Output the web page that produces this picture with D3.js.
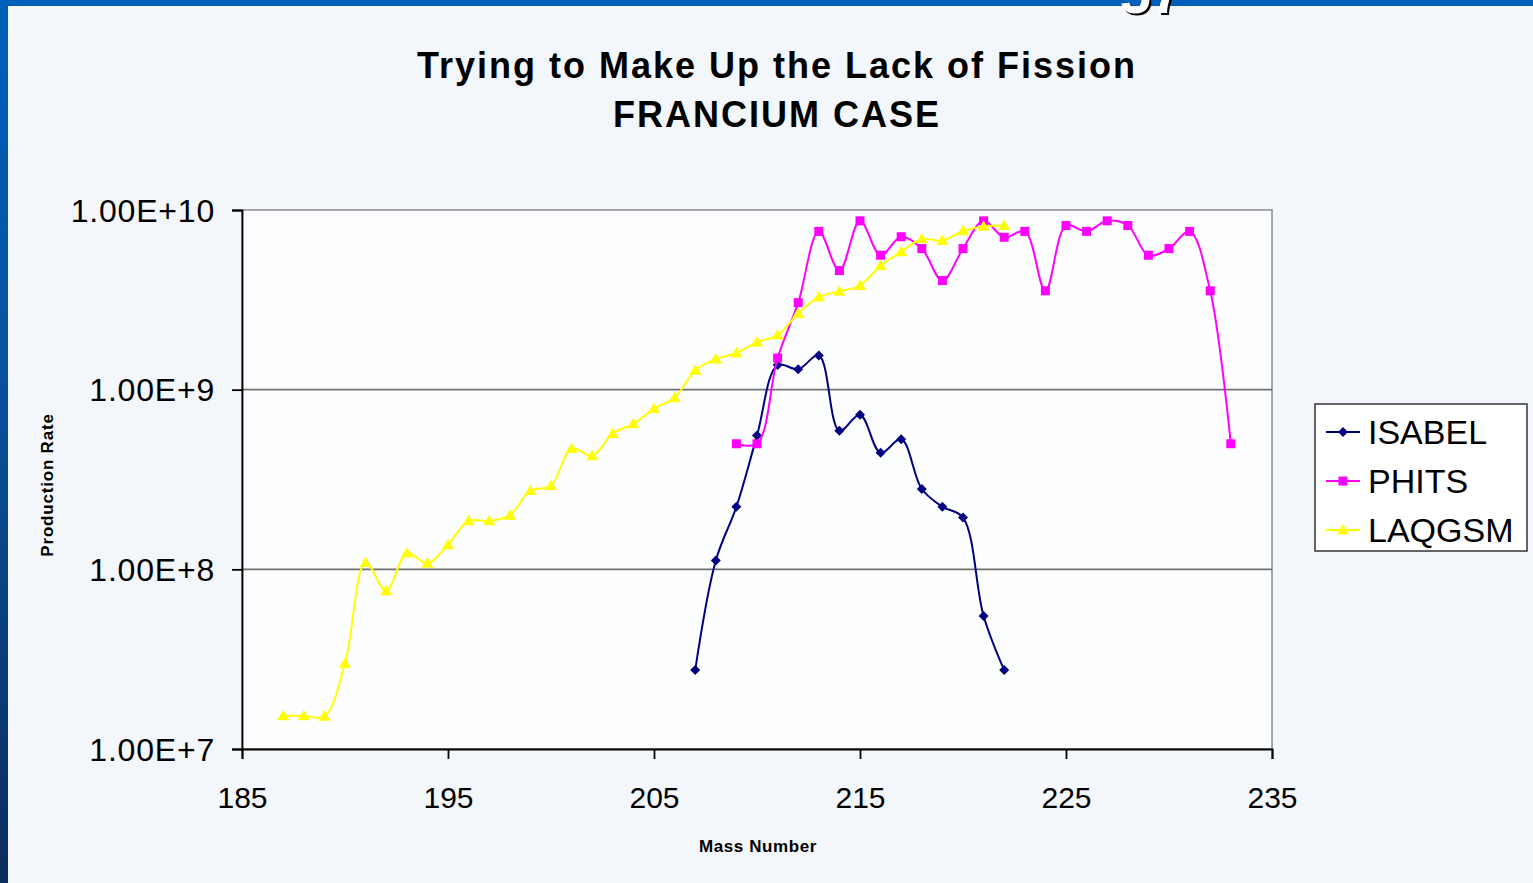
<!DOCTYPE html>
<html>
<head>
<meta charset="utf-8">
<script src="https://cdn.jsdelivr.net/npm/d3@7"></script>
<style>
  body { margin: 0; padding: 0; background: #f3f6fa; }
  svg { display: block; font-family: "Liberation Sans", Arial, sans-serif; }
</style>
</head>
<body>
<svg id="mainChart" width="1533" height="883"></svg>
<script>
// masses and production rates
var isabelMass = [207, 208, 209, 210, 211, 212, 213, 214, 215, 216, 217, 218, 219, 220, 221, 222];
var isabelRate = [2.75e7, 1.12e8, 2.23e8, 5.55e8, 1.37e9, 1.30e9, 1.55e9, 5.9e8, 7.25e8, 4.45e8, 5.3e8, 2.8e8, 2.23e8, 1.94e8, 5.5e7, 2.75e7];

var phitsMass = [209, 210, 211, 212, 213, 214, 215, 216, 217, 218, 219, 220, 221, 222, 223, 224, 225, 226, 227, 228, 229, 230, 231, 232, 233];
var phitsRate = [5.0e8, 5.0e8, 1.5e9, 3.05e9, 7.6e9, 4.6e9, 8.7e9, 5.6e9, 7.1e9, 6.1e9, 4.05e9, 6.1e9, 8.7e9, 7.05e9, 7.6e9, 3.55e9, 8.2e9, 7.6e9, 8.7e9, 8.2e9, 5.6e9, 6.1e9, 7.6e9, 3.55e9, 5.0e8];

var laqgsmMass = [187, 188, 189, 190, 191, 192, 193, 194, 195, 196, 197, 198, 199, 200, 201, 202, 203, 204, 205, 206, 207, 208, 209, 210, 211, 212, 213, 214, 215, 216, 217, 218, 219, 220, 221, 222];
var laqgsmRate = [1.53e7, 1.53e7, 1.52e7, 3.0e7, 1.09e8, 7.6e7, 1.23e8, 1.08e8, 1.37e8, 1.86e8, 1.86e8, 2.0e8, 2.74e8, 2.92e8, 4.7e8, 4.28e8, 5.7e8, 6.45e8, 7.85e8, 9.0e8, 1.28e9, 1.48e9, 1.6e9, 1.84e9, 2.01e9, 2.65e9, 3.27e9, 3.53e9, 3.8e9, 4.9e9, 5.85e9, 6.9e9, 6.75e9, 7.65e9, 8.1e9, 8.2e9];

var xTicks = [185, 195, 205, 215, 225, 235];
var yTicks = [1e7, 1e8, 1e9, 1e10];

var series = [
  { name: "ISABEL", mass: isabelMass, rate: isabelRate, color: "#000080", marker: "diamond" },
  { name: "PHITS", mass: phitsMass, rate: phitsRate, color: "#ff00ff", marker: "square" },
  { name: "LAQGSM", mass: laqgsmMass, rate: laqgsmRate, color: "#ffff00", marker: "triangle" }
];

var svg = d3.select("#mainChart");

// slide background with blue frame
var grad = svg.append("defs").append("linearGradient")
  .attr("id", "frameGrad").attr("x1", 0).attr("y1", 0).attr("x2", 0).attr("y2", 1);
grad.append("stop").attr("offset", "0%").attr("stop-color", "#0060bb");
grad.append("stop").attr("offset", "45%").attr("stop-color", "#0a4f9c");
grad.append("stop").attr("offset", "100%").attr("stop-color", "#0b2d5c");

svg.append("rect").attr("width", 1533).attr("height", 883).attr("fill", "#f3f6fa");
svg.append("rect").attr("x", 0).attr("y", 0).attr("width", 8).attr("height", 883).attr("fill", "url(#frameGrad)");
svg.append("rect").attr("x", 0).attr("y", 0).attr("width", 1533).attr("height", 6).attr("fill", "#0060bb");

// slide number, cut off by the top edge as on the slide
svg.append("text").attr("x", 1151).attr("y", 13).attr("text-anchor", "middle")
  .attr("font-size", 56).attr("font-weight", "bold").attr("fill", "#000")
  .attr("transform", "translate(2,2)").text("57");
svg.append("text").attr("x", 1151).attr("y", 13).attr("text-anchor", "middle")
  .attr("font-size", 56).attr("font-weight", "bold").attr("fill", "#fff").text("57");

var plotLeft = 242, plotRight = 1272, plotTop = 210, plotBottom = 749;

var x = d3.scaleLinear().domain([185, 235]).range([plotLeft, plotRight]);
var y = d3.scaleLog().domain([1e7, 1e10]).range([plotBottom, plotTop]);

// plot area
svg.append("rect").attr("x", plotLeft).attr("y", plotTop)
  .attr("width", plotRight - plotLeft).attr("height", plotBottom - plotTop)
  .attr("fill", "#fdfeff").attr("stroke", "#8a8a8a").attr("stroke-width", 1.5);

// gridlines
svg.append("g").selectAll("line").data(yTicks.slice(1, 3)).enter().append("line")
  .attr("x1", plotLeft).attr("x2", plotRight)
  .attr("y1", function(d) { return y(d); }).attr("y2", function(d) { return y(d); })
  .attr("stroke", "#6f6f6f").attr("stroke-width", 1.8);

// axes
var yAxis = svg.append("g").attr("transform", "translate(" + plotLeft + ",0)")
  .call(d3.axisLeft(y).tickValues(yTicks).tickSize(10).tickPadding(12)
    .tickFormat(function(d) { return d3.format(".2e")(d).toUpperCase(); }));
var xAxis = svg.append("g").attr("transform", "translate(0," + plotBottom + ")")
  .call(d3.axisBottom(x).tickValues(xTicks).tickSize(10).tickPadding(12));

[yAxis, xAxis].forEach(function(a) {
  a.select(".domain").attr("stroke", "#000").attr("stroke-width", 1.8);
  a.selectAll(".tick line").attr("stroke", "#000").attr("stroke-width", 1.8);
  a.selectAll(".tick text").attr("font-size", 30).attr("fill", "#000")
    .attr("font-family", "'Liberation Sans', Arial, sans-serif");
});
yAxis.selectAll(".tick text").attr("font-size", 32).attr("letter-spacing", 0.8)
  .attr("dy", "0.35em").attr("x", -27);
xAxis.selectAll(".tick text").attr("dy", "0.71em").attr("y", 38);

// lines and markers
var line = d3.line()
  .x(function(d) { return x(d[0]); })
  .y(function(d) { return y(d[1]); })
  .curve(d3.curveCatmullRom.alpha(0.5));

function markerPath(type, s) {
  if (type === "diamond") return "M0," + (-s) + "L" + s + ",0L0," + s + "L" + (-s) + ",0Z";
  if (type === "square") return "M" + (-s) + "," + (-s) + "H" + s + "V" + s + "H" + (-s) + "Z";
  return "M0," + (-s * 1.1) + "L" + (s * 1.1) + "," + (s * 0.8) + "L" + (-s * 1.1) + "," + (s * 0.8) + "Z";
}
var markerSize = { diamond: 5, square: 4.5, triangle: 5.5 };

series.forEach(function(s) {
  var pts = s.mass.map(function(m, i) { return [m, s.rate[i]]; });
  var g = svg.append("g");
  g.append("path").datum(pts).attr("d", line)
    .attr("fill", "none").attr("stroke", s.color).attr("stroke-width", 2);
  g.selectAll("path.pt").data(pts).enter().append("path").attr("class", "pt")
    .attr("transform", function(d) { return "translate(" + x(d[0]) + "," + y(d[1]) + ")"; })
    .attr("d", markerPath(s.marker, markerSize[s.marker]))
    .attr("fill", s.color);
});

// titles
svg.append("text").attr("x", 777).attr("y", 78).attr("text-anchor", "middle")
  .attr("font-size", 36).attr("font-weight", "bold").attr("letter-spacing", 2)
  .text("Trying to Make Up the Lack of Fission");
svg.append("text").attr("x", 777).attr("y", 127).attr("text-anchor", "middle")
  .attr("font-size", 36).attr("font-weight", "bold").attr("letter-spacing", 2)
  .text("FRANCIUM CASE");

svg.append("text").attr("x", 758).attr("y", 852).attr("text-anchor", "middle")
  .attr("font-size", 17).attr("font-weight", "bold").attr("letter-spacing", 0.6).text("Mass Number");
svg.append("text").attr("transform", "translate(53,485) rotate(-90)").attr("text-anchor", "middle")
  .attr("font-size", 17).attr("font-weight", "bold").attr("letter-spacing", 0.8).text("Production Rate");

// legend
var legend = svg.append("g");
legend.append("rect").attr("x", 1315).attr("y", 404).attr("width", 212).attr("height", 147)
  .attr("fill", "#fff").attr("stroke", "#333").attr("stroke-width", 1.5);
series.forEach(function(s, i) {
  var ly = 432 + i * 49;
  legend.append("line").attr("x1", 1326).attr("x2", 1360).attr("y1", ly).attr("y2", ly)
    .attr("stroke", s.color).attr("stroke-width", 2);
  legend.append("path").attr("transform", "translate(1343," + ly + ")")
    .attr("d", markerPath(s.marker, markerSize[s.marker])).attr("fill", s.color);
  legend.append("text").attr("x", 1368).attr("y", ly).attr("dy", "0.35em")
    .attr("font-size", 34).text(s.name);
});
</script>
</body>
</html>
